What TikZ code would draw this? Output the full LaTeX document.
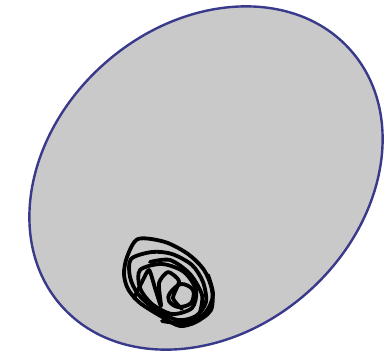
\documentclass[tikz,border=0pt]{standalone}
\begin{document}
\begin{tikzpicture}[x=1pt,y=-1pt,
  scrib/.style={draw=black,line width=3.8pt,line join=round,line cap=round}]
\useasboundingbox (0,0) rectangle (385,357);
\fill[white] (0,0) rectangle (385,357);
\definecolor{egg}{RGB}{201,201,201}
\definecolor{rim}{RGB}{58,58,140}
\draw[draw=rim,fill=egg,line width=2.4pt,rotate around={41.4:(206,178)}] (206,178) ellipse [x radius=193, y radius=153];
% scribble
\draw[scrib] plot[smooth cycle,tension=0.5] coordinates {(138,239) (165,242) (188,254) (204,270) (212,290) (211,310) (196,322) (180,326) (164,318) (140,303) (128,289) (124,274) (127,257)};
\draw[scrib] plot[smooth cycle,tension=0.5] coordinates {(131,259) (152,252) (172,254) (192,265) (203,282) (206,302) (196,316) (178,320) (156,310) (138,294) (130,277)};
\draw[scrib] plot[smooth cycle,tension=0.5] coordinates {(140,270) (162,264) (184,272) (196,290) (192,308) (172,314) (152,304) (140,288)};
\draw[scrib] plot[smooth,tension=0.4] coordinates {(134,298) (142,282) (149,270) (155,288) (161,306) (159,283) (168,272) (179,281) (173,298) (182,309)};
\draw[scrib] plot[smooth cycle,tension=0.6] coordinates {(170,293) (181,284) (193,290) (191,303) (178,307) (169,301)};
\draw[scrib] plot[smooth,tension=0.5] coordinates {(150,262) (170,260) (190,274) (202,295) (200,312)};
\draw[scrib] plot[smooth,tension=0.5] coordinates {(162,321) (185,323) (205,313) (213,295) (208,275)};
\end{tikzpicture}
\end{document}
